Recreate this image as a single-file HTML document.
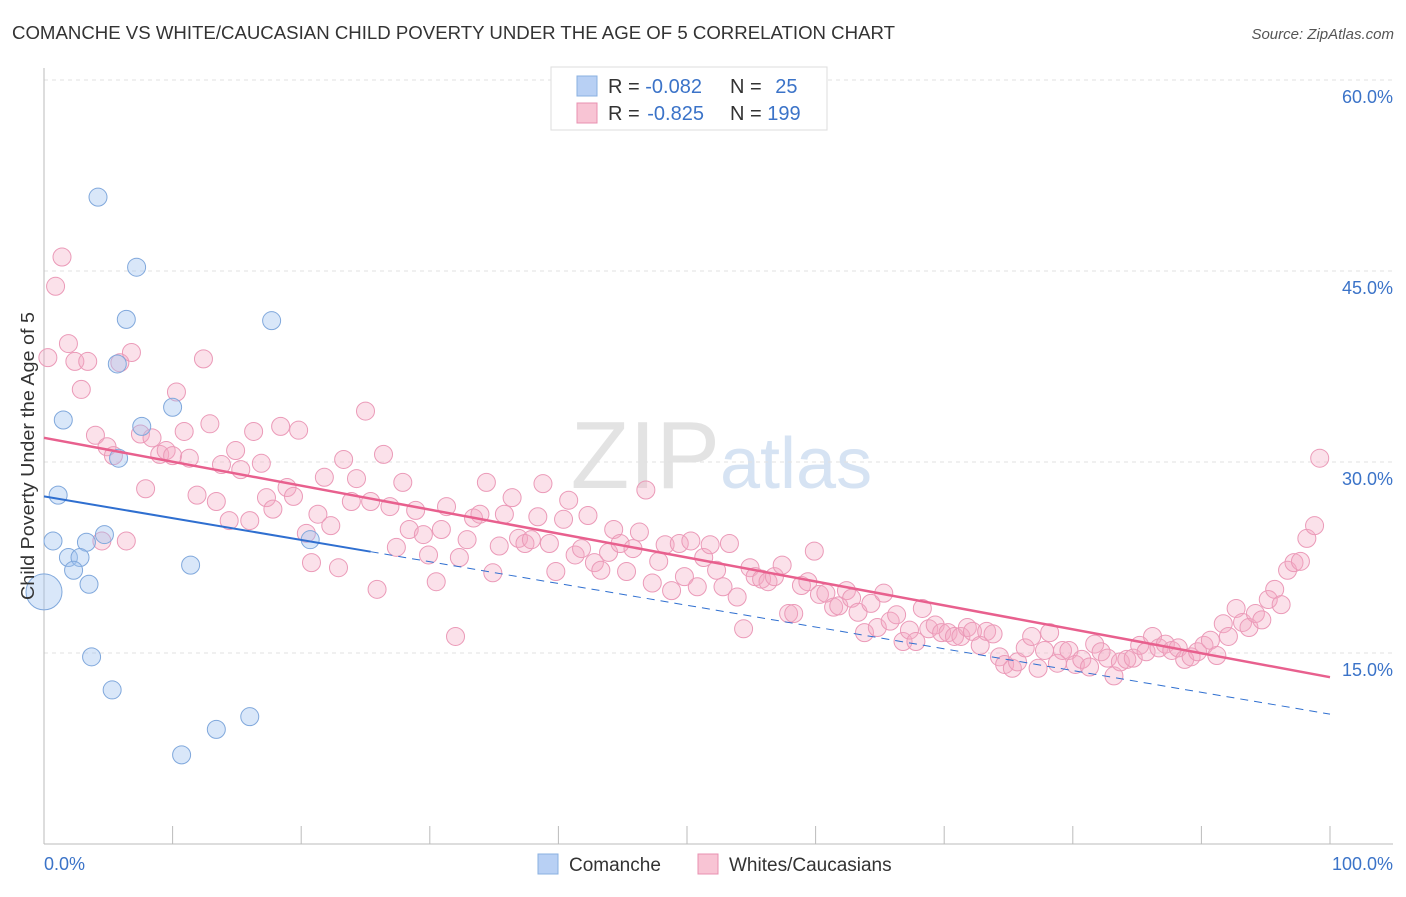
<!DOCTYPE html>
<html><head><meta charset="utf-8"><style>
body{margin:0;background:#fff;font-family:"Liberation Sans",sans-serif}
svg text{font-family:"Liberation Sans",sans-serif}
</style></head><body>
<svg id="c" width="1406" height="892">
<text x="12" y="39" font-size="18" fill="#333" textLength="883" lengthAdjust="spacingAndGlyphs">COMANCHE VS WHITE/CAUCASIAN CHILD POVERTY UNDER THE AGE OF 5 CORRELATION CHART</text>
<text x="1394" y="39" font-size="15" fill="#555" font-style="italic" text-anchor="end">Source: ZipAtlas.com</text>
<text x="720" y="488" font-size="96" fill="#e3e3e3" text-anchor="end" font-family="Liberation Serif">ZIP</text>
<text x="720" y="488" font-size="72" fill="#d6e3f3">atlas</text>
<g id="grid"></g>
<g id="axes"></g>
<g id="pts"></g>
<g id="trends"></g>
<text transform="translate(34,456) rotate(-90)" font-size="18" fill="#333" text-anchor="middle" textLength="288" lengthAdjust="spacingAndGlyphs">Child Poverty Under the Age of 5</text>
<text x="44" y="870" font-size="18" fill="#3b73c8">0.0%</text>
<text x="1393" y="870" font-size="18" fill="#3b73c8" text-anchor="end">100.0%</text>
<g>
<rect x="551" y="67" width="276" height="63" fill="#fff" stroke="#ddd"/>
<rect x="577" y="76" width="20" height="20" fill="#b8d0f4" stroke="#8ab0e0"/>
<rect x="577" y="103" width="20" height="20" fill="#f8c4d4" stroke="#e890b0"/>
<text x="608" y="93" font-size="20" fill="#333">R = <tspan fill="#3b73c8">-0.082</tspan></text>
<text x="730" y="93" font-size="20" fill="#333">N = <tspan fill="#3b73c8" dx="8">25</tspan></text>
<text x="608" y="120" font-size="20" fill="#333">R = <tspan fill="#3b73c8" dx="2">-0.825</tspan></text>
<text x="730" y="120" font-size="20" fill="#333">N = <tspan fill="#3b73c8">199</tspan></text>
</g>
<g>
<rect x="538" y="854" width="20" height="20" fill="#b8d0f4" stroke="#8ab0e0"/>
<text x="569" y="871" font-size="19" fill="#333">Comanche</text>
<rect x="698" y="854" width="20" height="20" fill="#f8c4d4" stroke="#e890b0"/>
<text x="729" y="871" font-size="19" fill="#333">Whites/Caucasians</text>
</g>
</svg>
<script>
const yTicks=[15,30,45,60];
const yTickLabels=["15.0%","30.0%","45.0%","60.0%"];
const blueX=[4.2,7.2,6.4,17.7,5.7,10.0,7.6,1.5,5.8,1.1,0.7,3.3,4.7,1.9,2.8,2.3,3.5,11.4,20.7,0,3.7,5.3,13.4,16.0,10.7];
const blueY=[50.8,45.3,41.2,41.1,37.7,34.3,32.8,33.3,30.3,27.4,23.8,23.7,24.3,22.5,22.5,21.5,20.4,21.9,23.9,19.8,14.7,12.1,9.0,10.0,7.0];
const pinkX=[0.3,1.4,0.9,1.9,2.4,3.4,2.9,4.0,4.9,5.4,4.5,6.4,5.9,6.8,7.5,8.4,7.9,9.0,9.5,10.0,10.3,10.9,11.3,11.9,12.4,12.9,13.4,13.8,14.4,14.9,15.3,16.0,16.3,16.9,17.3,17.8,18.4,18.9,19.4,19.8,20.4,20.8,21.3,21.8,22.3,22.9,23.3,23.9,24.3,25.0,25.4,25.9,26.4,26.9,27.4,27.9,28.4,28.9,29.5,29.9,30.5,30.9,31.3,32.0,32.3,32.9,33.4,33.9,34.4,34.9,35.4,35.8,36.4,36.9,37.4,37.9,38.4,38.8,39.3,39.8,40.4,40.8,41.3,41.8,42.3,42.8,43.3,43.9,44.3,44.8,45.3,45.8,46.3,46.8,47.3,47.8,48.3,48.8,49.4,49.8,50.3,50.8,51.3,51.8,52.3,52.8,53.3,53.9,54.4,54.9,55.3,55.8,56.3,56.8,57.4,57.9,58.3,58.9,59.4,59.9,60.3,60.8,61.4,61.8,62.4,62.8,63.3,63.8,64.3,64.8,65.3,65.8,66.3,66.8,67.3,67.8,68.3,68.8,69.3,69.8,70.3,70.8,71.3,71.8,72.2,72.8,73.3,73.8,74.3,74.7,75.3,75.7,76.3,76.8,77.3,77.8,78.2,78.8,79.2,79.7,80.2,80.7,81.3,81.7,82.2,82.7,83.2,83.7,84.2,84.7,85.2,85.7,86.2,86.7,87.2,87.7,88.2,88.7,89.2,89.7,90.2,90.7,91.2,91.7,92.1,92.7,93.2,93.7,94.2,94.7,95.2,95.7,96.2,96.7,97.2,97.7,98.2,98.8,99.2];
const pinkY=[38.2,46.1,43.8,39.3,37.9,37.9,35.7,32.1,31.2,30.5,23.8,23.8,37.8,38.6,32.2,31.9,27.9,30.6,30.9,30.5,35.5,32.4,30.3,27.4,38.1,33.0,26.9,29.8,25.4,30.9,29.4,25.4,32.4,29.9,27.2,26.3,32.8,28.0,27.3,32.5,24.4,22.1,25.9,28.8,25.0,21.7,30.2,26.9,28.7,34.0,26.9,20.0,30.6,26.5,23.3,28.4,24.7,26.2,24.3,22.7,20.6,24.7,26.5,16.3,22.5,23.9,25.6,25.9,28.4,21.3,23.4,25.9,27.2,24.0,23.6,23.9,25.7,28.3,23.6,21.4,25.5,27.0,22.7,23.2,25.8,22.1,21.5,22.9,24.7,23.6,21.4,23.2,24.5,27.8,20.5,22.2,23.5,19.9,23.6,21.0,23.8,20.2,22.5,23.5,21.5,20.2,23.6,19.4,16.9,21.7,21.0,20.8,20.6,21.0,21.9,18.1,18.1,20.3,20.6,23.0,19.6,19.7,18.6,18.7,19.9,19.3,18.2,16.6,18.9,17.0,19.7,17.5,18.0,15.9,16.8,15.9,18.5,16.9,17.2,16.6,16.6,16.3,16.3,17.0,16.7,15.6,16.7,16.5,14.7,14.1,13.8,14.3,15.4,16.3,13.8,15.2,16.6,14.2,15.2,15.2,14.1,14.5,13.9,15.7,15.1,14.6,13.2,14.3,14.5,14.6,15.6,15.1,16.3,15.4,15.7,15.2,15.4,14.5,14.7,15.1,15.6,16.0,14.8,17.3,16.3,18.5,17.4,17.0,18.1,17.6,19.2,20.0,18.8,21.5,22.1,22.2,24.0,25.0,30.3];
const blueTrend=[27.3,10.2];
const pinkTrend=[31.9,13.1];
const X0=44,X1=1330,Y0=844,PY=12.733;
const sx=v=>X0+(X1-X0)*v/100, sy=v=>Y0-v*PY;
const NS="http://www.w3.org/2000/svg";
function mk(t,a,p){const e=document.createElementNS(NS,t);for(const k in a)e.setAttribute(k,a[k]);p.appendChild(e);return e;}
const grid=document.getElementById('grid'),axes=document.getElementById('axes'),pts=document.getElementById('pts'),tr=document.getElementById('trends');
yTicks.forEach((t,i)=>{
 const l=mk('line',{x1:44,x2:1393,y1:sy(t),y2:sy(t),stroke:'#e2e2e2','stroke-dasharray':'4,4'},grid);
 
 
 const tx=mk('text',{x:1393,y:sy(t)+23,'font-size':18,fill:'#3b73c8','text-anchor':'end'},grid);
 tx.textContent=yTickLabels[i];
 
 
});
const ax=mk('line',{x1:44,x2:44,y1:68,y2:844,stroke:'#bbb'},axes);


const bx=mk('line',{x1:44,x2:1393,y1:844,y2:844,stroke:'#bbb'},axes);


for(let i=0;i<=10;i++){const t=mk('line',{x1:sx(i*10),x2:sx(i*10),y1:826,y2:844,stroke:'#bbb'},axes);
 
 }
pinkX.forEach((x,i)=>{const c=mk('circle',{cx:sx(x),cy:sy(pinkY[i]),r:9,fill:'rgba(244,170,196,0.35)',stroke:'#eb9ab8','stroke-width':1},pts);
 
 });
blueX.forEach((x,i)=>{const c=mk('circle',{cx:sx(x),cy:sy(blueY[i]),r:(x===0?18:9),fill:'rgba(160,196,240,0.4)',stroke:'#80a8dc','stroke-width':1},pts);
 
 });
const bAt=x=>blueTrend[0]+(blueTrend[1]-blueTrend[0])*x/100;
const b1=mk('line',{x1:sx(0),y1:sy(bAt(0)),x2:sx(25.4),y2:sy(bAt(25.4)),stroke:'#2f6fd0','stroke-width':2},tr);


const b2=mk('line',{x1:sx(25.4),y1:sy(bAt(25.4)),x2:sx(100),y2:sy(bAt(100)),stroke:'#2f6fd0','stroke-width':1,'stroke-dasharray':'8,6'},tr);


const p1=mk('line',{x1:sx(0),y1:sy(pinkTrend[0]),x2:sx(100),y2:sy(pinkTrend[1]),stroke:'#e8608e','stroke-width':2.5},tr);


</script>
</body></html>
